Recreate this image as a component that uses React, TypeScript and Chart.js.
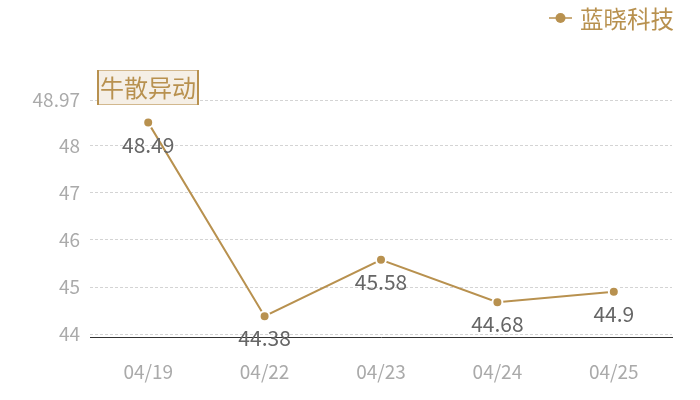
import { useEffect, useRef } from 'react';
import Chart, { ChartConfiguration, Plugin } from 'chart.js/auto';

const dates = ['04/19', '04/22', '04/23', '04/24', '04/25'];
const prices = [48.49, 44.38, 45.58, 44.68, 44.9];
const yTicks = [44, 45, 46, 47, 48, 48.97];
const seriesName = '蓝晓科技';
const titleText = '牛散异动';

const GOLD = '#b8914f';
const FONT = '"Noto Sans CJK SC", "Open Sans", sans-serif';

const overlay: Plugin<'line'> = {
  id: 'overlay',
  afterDatasetsDraw(chart) {
    const { ctx } = chart;
    const meta = chart.getDatasetMeta(0);
    ctx.save();
    // value labels under each point
    ctx.font = `21px ${FONT}`;
    ctx.fillStyle = '#666';
    ctx.textAlign = 'center';
    ctx.textBaseline = 'middle';
    meta.data.forEach((pt, i) => {
      ctx.fillText(String(prices[i]), pt.x, pt.y + 22);
    });

    // title box
    ctx.font = `24px ${FONT}`;
    const bx = 97;
    const by = 70;
    const bh = 34;
    const w = 101;
    ctx.fillStyle = '#f5efe6';
    ctx.fillRect(bx, by, w, bh);
    ctx.strokeStyle = '#d2b88e';
    ctx.lineWidth = 1;
    ctx.strokeRect(bx + 0.5, by + 0.5, w, bh);
    ctx.fillStyle = GOLD;
    ctx.fillRect(bx, by, 2, bh + 1);
    ctx.fillRect(bx + w - 1, by, 2, bh + 1);
    ctx.textAlign = 'center';
    ctx.fillText(titleText, bx + w / 2 + 0.5, by + bh / 2 + 1);

    // legend
    const lx = 549;
    const ly = 18;
    ctx.strokeStyle = GOLD;
    ctx.lineWidth = 1.5;
    ctx.beginPath();
    ctx.moveTo(lx, ly);
    ctx.lineTo(lx + 23, ly);
    ctx.stroke();
    ctx.fillStyle = GOLD;
    ctx.beginPath();
    ctx.arc(lx + 11.5, ly, 5, 0, Math.PI * 2);
    ctx.fill();
    ctx.font = `23.5px ${FONT}`;
    ctx.textAlign = 'left';
    ctx.fillText(seriesName, lx + 31, ly + 1);
    ctx.restore();
  },
};

const getChartConfig = (): ChartConfiguration<'line'> => ({
  type: 'line',
  data: {
    labels: dates,
    datasets: [
      {
        label: seriesName,
        data: prices,
        borderColor: GOLD,
        borderWidth: 2,
        backgroundColor: GOLD,
        pointBackgroundColor: GOLD,
        pointBorderColor: '#fff',
        pointBorderWidth: 2,
        pointRadius: 5,
        tension: 0,
      },
    ],
  },
  options: {
    animation: false,
    responsive: false,
    maintainAspectRatio: false,
    layout: { padding: { top: 100, right: 28, left: 0, bottom: 0 } },
    plugins: {
      legend: { display: false },
      tooltip: { enabled: false },
    },
    scales: {
      x: {
        offset: true,
        grid: { display: false, drawTicks: false },
        border: { display: true, color: '#333', width: 1 },
        ticks: {
          color: '#aaa',
          font: { size: 19, family: FONT },
          padding: 23,
        },
        afterFit(scale) {
          scale.height = 63;
        },
      },
      y: {
        min: 43.94,
        max: 48.97,
        grid: { color: '#d4d4d4', drawTicks: false },
        border: { display: false, dash: [3, 2] },
        ticks: {
          color: '#aaa',
          font: { size: 19, family: FONT },
          padding: 10,
          callback: (v) => String(v),
        },
        afterBuildTicks(scale) {
          scale.ticks = yTicks.map((v) => ({ value: v }));
        },
        afterFit(scale) {
          scale.width = 90;
        },
      },
    },
  },
  plugins: [overlay],
});

const App = () => {
  const canvasRef = useRef<HTMLCanvasElement>(null);

  useEffect(() => {
    const canvas = canvasRef.current;
    if (!canvas) return;
    const chart = new Chart(canvas, getChartConfig());
    return () => {
      chart.destroy();
    };
  }, []);

  return (
    <div style={{ position: 'fixed', left: 0, top: 0, width: 700, height: 400, background: '#fff' }}>
      <canvas ref={canvasRef} width={700} height={400} style={{ width: 700, height: 400 }} />
    </div>
  );
};

export default App;
